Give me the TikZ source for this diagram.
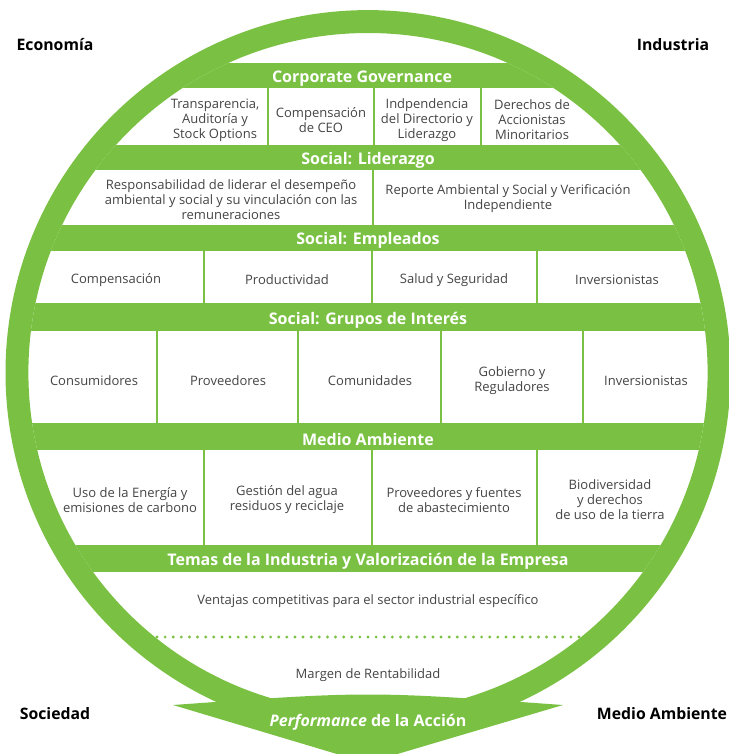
\documentclass[tikz,border=0pt]{standalone}
\usepackage{fontspec}
\setmainfont{Open Sans}
\usetikzlibrary{calc}
\definecolor{leaf}{HTML}{7AC143}
\definecolor{ink}{HTML}{444444}

\begin{document}
\begin{tikzpicture}[x=1pt,y=-1pt,
    cell/.style={text=ink, align=center, yshift=-2pt, font=\fontsize{13}{15}\selectfont},
    band/.style={text=white, yshift=-2.5pt, font=\bfseries\fontsize{16}{18}\selectfont},
    corner/.style={text=black, yshift=-1pt, font=\bfseries\fontsize{15.8}{18}\selectfont},
    divider/.style={draw=leaf, line width=2pt}]
    \useasboundingbox (0,0) rectangle (728,754);
    \coordinate (c) at (368,372.6);

    % inside of the ring
    \begin{scope}
        \clip (c) circle (339.6);
        \fill[leaf] (0,63) rectangle (728,88);
        \fill[leaf] (0,145) rectangle (728,170);
        \fill[leaf] (0,225) rectangle (728,251);
        \fill[leaf] (0,303) rectangle (728,331);
        \fill[leaf] (0,423) rectangle (728,450);
        \fill[leaf] (0,545) rectangle (728,572);
        \foreach \x in {268,374,481}
            \draw[divider] (\x,88) -- (\x,145);
        \draw[divider] (373,170) -- (373,225);
        \foreach \x in {204,372,537} {
            \draw[divider] (\x,251) -- (\x,303);
            \draw[divider] (\x,450) -- (\x,545);
        }
        \foreach \x in {157,298,441,583}
            \draw[divider] (\x,331) -- (\x,423);
    \end{scope}

    % dotted line
    \coordinate (d1) at (157,637);
    \coordinate (d2) at (579,637);
    \foreach \i in {0,...,52}
        \fill[leaf] ($(d1)!\i/52!(d2)$) circle (1.6);

    % ring and arrow
    \fill[leaf, even odd rule] (c) circle (362.5) (c) circle (339.6);
    \fill[leaf] (173,705) .. controls (368,691) .. (563,705) -- (367,763) -- cycle;

    % headers
    \node[band] (gov) at (362,76) {Corporate Governance};
    \node[band] (lid) at (368,158) {Social: Liderazgo};
    \node[band] (emp) at (368,238) {Social: Empleados};
    \node[band] (gru) at (368,318) {Social: Grupos de Interés};
    \node[band] (amb) at (368,437) {Medio Ambiente};
    \node[band] (ind) at (368,559) {Temas de la Industria y Valorización de la Empresa};
    \node[band] (acc) at (368,720) {\textit{Performance} de la Acción};

    % Corporate Governance
    \node[cell] (gov1) at (215,118) {Transparencia,\\Auditoría y\\Stock Options};
    \node[cell] (gov2) at (321,118) {Compensación\\de CEO};
    \node[cell] (gov3) at (427,118) {Indpendencia\\del Directorio y\\Liderazgo};
    \node[cell] (gov4) at (532,118) {Derechos de\\Accionistas\\Minoritarios};
    % Liderazgo
    \node[cell] (lid1) at (231,198) {Responsabilidad de liderar el desempeño\\ambiental y social y su vinculación con las\\remuneraciones};
    \node[cell] (lid2) at (508,197) {Reporte Ambiental y Social y Verificación\\Independiente};
    % Empleados
    \node[cell] (emp1) at (116,278) {Compensación};
    \node[cell] (emp2) at (287,278) {Productividad};
    \node[cell] (emp3) at (454,278) {Salud y Seguridad};
    \node[cell] (emp4) at (617,278) {Inversionistas};
    % Grupos de Interes
    \node[cell] (gru1) at (94,379) {Consumidores};
    \node[cell] (gru2) at (228,379) {Proveedores};
    \node[cell] (gru3) at (370,379) {Comunidades};
    \node[cell] (gru4) at (512,379) {Gobierno y\\Reguladores};
    \node[cell] (gru5) at (646,379) {Inversionistas};
    % Medio Ambiente
    \node[cell] (amb1) at (130,498) {Uso de la Energía y\\emisiones de carbono};
    \node[cell] (amb2) at (287,498) {Gestión del agua\\residuos y reciclaje};
    \node[cell] (amb3) at (454,498) {Proveedores y fuentes\\de abastecimiento};
    \node[cell] (amb4) at (610,498) {Biodiversidad\\y derechos\\de uso de la tierra};
    % Industria
    \node[cell] (ind1) at (368,599) {Ventajas competitivas para el sector industrial específico};
    \node[cell] (ind2) at (368,673) {Margen de Rentabilidad};

    % corners
    \node[corner] (eco) at (55,44) {Economía};
    \node[corner] (inda) at (673,44) {Industria};
    \node[corner] (soc) at (55,713) {Sociedad};
    \node[corner] (med) at (662,713) {Medio Ambiente};
\end{tikzpicture}
\end{document}
